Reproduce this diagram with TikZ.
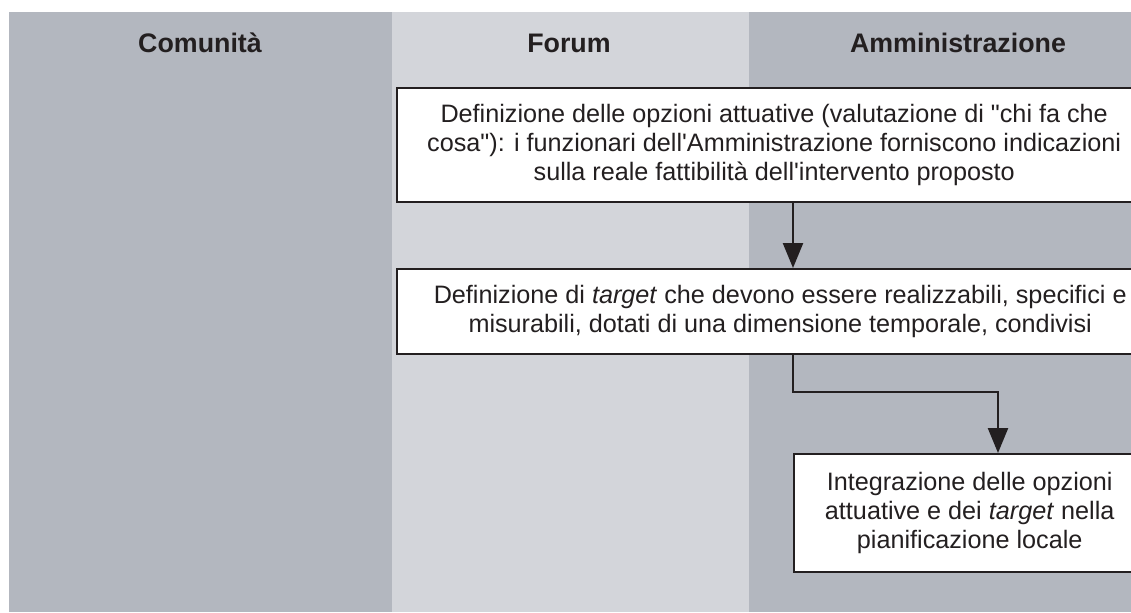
\documentclass[tikz,border=0pt]{standalone}
\usepackage{fontspec}
\newfontfamily\arialfont{Liberation Sans}
\usetikzlibrary{arrows.meta}

\definecolor{laneDark}{RGB}{179,183,191}
\definecolor{laneLight}{RGB}{211,213,218}
\definecolor{inkGray}{RGB}{35,31,32}

\begin{document}
\begin{tikzpicture}[x=0.5pt,y=-0.5pt]
    \tikzstyle{header} = [text=inkGray, font=\arialfont\bfseries\fontsize{13.4}{15}\selectfont]
    \tikzstyle{stepbox} = [rectangle, anchor=north west, draw=inkGray, line width=1.2pt, fill=white, align=center, inner sep=0pt, text=inkGray, font=\arialfont\fontsize{12.6}{14.5}\selectfont]
    \tikzstyle{arrow} = [line width=1.2pt, draw=inkGray, -{Triangle[width=10pt,length=12.5pt]}]
    \useasboundingbox (0,0) rectangle (1131,612);
    \clip (0,0) rectangle (1131,612);
    % lanes
    \fill[laneDark] (9,12) rectangle (392,612);
    \fill[laneLight] (392,12) rectangle (749,612);
    \fill[laneDark] (749,12) rectangle (1131,612);
    \node[header] (comunita) at (200,43) {Comunità};
    \node[header] (forum) at (569,43) {Forum};
    \node[header] (amm) at (958,43) {Amministrazione};
    % steps
    \node[stepbox, minimum width=377pt, minimum height=57pt] (opzioni) at (396,87) {Definizione delle opzioni attuative (valutazione di "chi fa che\\cosa"): i funzionari dell'Amministrazione forniscono indicazioni\\sulla reale fattibilità dell'intervento proposto};
    \node[stepbox, minimum width=383pt, minimum height=42.5pt] (target) at (396,268) {Definizione di \textit{target} che devono essere realizzabili, specifici e\\misurabili, dotati di una dimensione temporale, condivisi};
    \node[stepbox, minimum width=175.5pt, minimum height=59pt] (integra) at (793,453) {Integrazione delle opzioni\\attuative e dei \textit{target} nella\\pianificazione locale};
    \coordinate (bend) at (998,392);
    \draw[arrow] (opzioni.south -| integra.west) -- (target.north -| integra.west);
    \draw[arrow] (target.south -| integra.west) |- (bend) -- (bend |- integra.north);
\end{tikzpicture}
\end{document}
